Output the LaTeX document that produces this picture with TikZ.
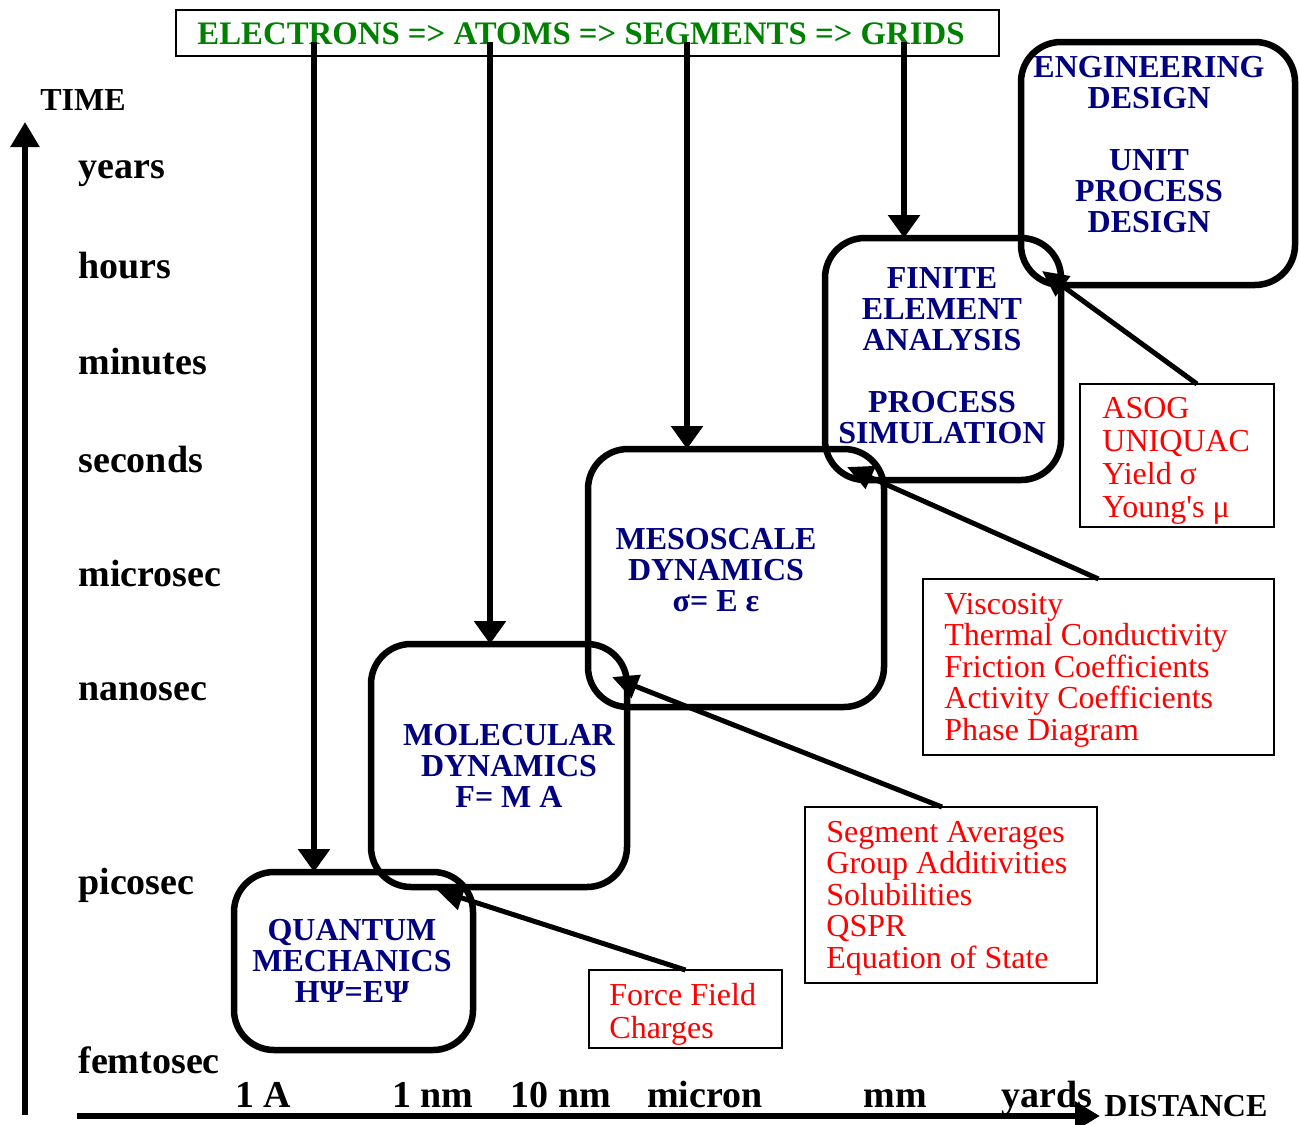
\documentclass[tikz,border=0pt]{standalone}
\usepackage{fontspec}
\setmainfont{Liberation Serif}
\usetikzlibrary{arrows.meta,positioning,calc}
\definecolor{navy}{HTML}{000080}
\definecolor{leafgreen}{HTML}{008000}
\definecolor{alarmred}{HTML}{FF0000}

\begin{document}
\begin{tikzpicture}[
  x=0.5pt, y=-0.5pt,
  scalebox/.style={draw, line width=3.25pt, rounded corners=20pt, inner sep=0pt, outer sep=0pt},
  scaletext/.style={text=navy, font=\fontsize{16}{15.5}\selectfont\bfseries, align=center, inner sep=0pt},
  databox/.style={draw, line width=0.75pt, inner sep=0pt, outer sep=0pt},
  datatext/.style={text=alarmred, font=\fontsize{16}{15.75}\selectfont, align=left, anchor=west, inner sep=0pt},
  tick/.style={font=\fontsize{19}{19}\selectfont\bfseries, inner sep=0pt},
  axlabel/.style={font=\fontsize{16}{16}\selectfont\bfseries, inner sep=0pt, anchor=west},
  drop/.style={-{Triangle[length=11.5pt,width=15.5pt]}, line width=3pt},
  feed/.style={-{Triangle[length=13pt,width=12pt]}, line width=2.5pt},
  axis/.style={-{Triangle[length=12.5pt,width=14pt]}, line width=2.75pt}
]
\useasboundingbox (0,0) rectangle (1299,1124);

% banner
\node[databox, minimum width=411.5pt, minimum height=23pt] (banner) at (587.5,33) {};
\node[text=leafgreen, font=\fontsize{16.4}{16.4}\selectfont\bfseries, inner sep=0pt] (bannertext) at (581,34) {ELECTRONS => ATOMS => SEGMENTS => GRIDS};

% axes
\coordinate (tbot) at (25,1115);
\coordinate (ttop) at (25,122);
\coordinate (dleft) at (77,1116);
\coordinate (dright) at (1100,1116);
\draw[axis] (tbot) -- (ttop);
\draw[axis, line width=3pt] (dleft) -- (dright);
\node[axlabel] (time) at (40,100) {TIME};
\node[axlabel] (distance) at (1104,1106) {DISTANCE};

\node[tick, anchor=mid west] (years) at (78,174) {years};
\node[tick, anchor=mid west] (hours) at (78,274) {hours};
\node[tick, anchor=mid west] (minutes) at (78,370) {minutes};
\node[tick, anchor=mid west] (seconds) at (78,468) {seconds};
\node[tick, anchor=mid west] (microsec) at (78,582) {microsec};
\node[tick, anchor=mid west] (nanosec) at (78,696) {nanosec};
\node[tick, anchor=mid west] (picosec) at (78,890) {picosec};
\node[tick, anchor=mid west] (femtosec) at (78,1069) {femtosec};

\node[tick, anchor=base] (angstrom) at (263,1107) {1 A};
\node[tick, anchor=base] (nanometre) at (433,1107) {1 nm};
\node[tick, anchor=base] (tennm) at (561,1107) {10 nm};
\node[tick, anchor=base] (micron) at (705,1107) {micron};
\node[tick, anchor=base] (mm) at (895,1107) {mm};
\node[tick, anchor=base] (yards) at (1047,1107) {yards};

% scale boxes
\node[scalebox, minimum width=119.5pt, minimum height=89pt] (qm) at (353.5,961) {};
\node[scalebox, minimum width=128pt, minimum height=121.5pt] (md) at (499,765.5) {};
\node[scalebox, minimum width=148pt, minimum height=129pt] (meso) at (736,578) {};
\node[scalebox, minimum width=118pt, minimum height=121pt] (fea) at (943,359) {};
\node[scalebox, minimum width=137pt, minimum height=121.5pt] (eng) at (1158,163.5) {};

\node[scaletext] (qmtext) at (352,961) {QUANTUM\\MECHANICS\\HΨ=EΨ};
\node[scaletext] (mdtext) at (509,766) {MOLECULAR\\DYNAMICS\\F= M A};
\node[scaletext] (mesotext) at (716,570) {MESOSCALE\\DYNAMICS\\σ= E ε};
\node[scaletext] (featext) at (942,356) {FINITE\\ELEMENT\\ANALYSIS\\[15.5pt]PROCESS\\SIMULATION};
\node[scaletext] (engtext) at (1149,145) {ENGINEERING\\DESIGN\\[15.5pt]UNIT\\PROCESS\\DESIGN};

% property boxes
\node[databox, minimum width=97pt, minimum height=71.5pt] (asog) at (1177,455.5) {};
\node[datatext, font=\fontsize{16}{16.5}\selectfont] (asogtext) at (1102,461) {ASOG\\UNIQUAC\\Yield σ\\Young\textquotesingle s μ};
\node[databox, minimum width=175.5pt, minimum height=88pt] (visc) at (1098.5,667) {};
\node[datatext] (visctext) at (944,670) {Viscosity\\Thermal Conductivity\\Friction Coefficients\\Activity Coefficients\\Phase Diagram};
\node[databox, minimum width=146pt, minimum height=88pt] (seg) at (951,895) {};
\node[datatext] (segtext) at (826,898) {Segment Averages\\Group Additivities\\Solubilities\\QSPR\\Equation of State};
\node[databox, minimum width=96.5pt, minimum height=39pt] (force) at (685.5,1009) {};
\node[datatext, font=\fontsize{16}{16.5}\selectfont] (forcetext) at (609,1014) {Force Field\\Charges};

% drops from the banner
\coordinate (d1) at (314,42);
\coordinate (d2) at (490,42);
\coordinate (d3) at (687,42);
\coordinate (d4) at (904,42);
\draw[drop] (d1) -- (d1 |- qm.north);
\draw[drop] (d2) -- (d2 |- md.north);
\draw[drop] (d3) -- (d3 |- meso.north);
\draw[drop] (d4) -- (d4 |- fea.north);

% feeds into the box corners
\draw[feed] ($(asog.north)+(20,0)$) -- ($(fea.north east)+(-19,33)$);
\draw[feed] (visc.north) -- ($(meso.north east)+(-37,18)$);
\draw[feed] ($(seg.north)+(-9,0)$) -- ($(md.north east)+(-15,33)$);
\draw[feed] (force.north) -- ($(qm.north east)+(-36,18)$);
\end{tikzpicture}
\end{document}
